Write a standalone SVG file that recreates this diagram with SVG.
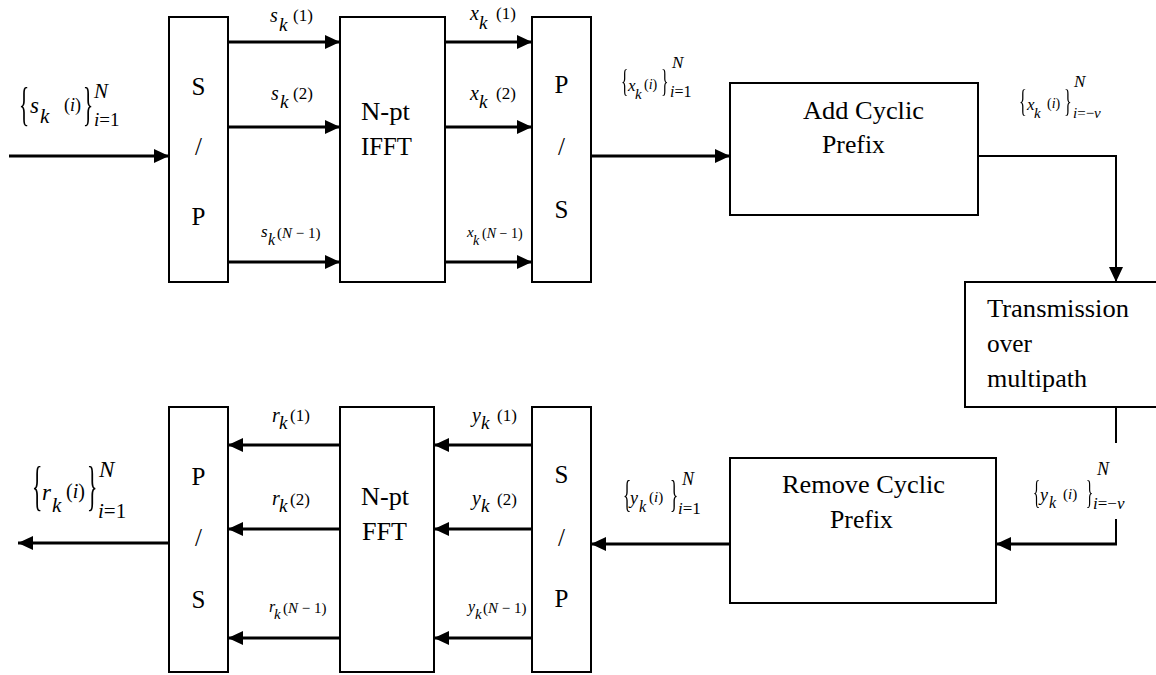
<svg xmlns="http://www.w3.org/2000/svg" width="1156" height="675" viewBox="0 0 1156 675" font-family="Liberation Serif, Tinos, Times New Roman, Nimbus Roman, FreeSerif, DejaVu Serif, serif">
<style>
.box{fill:#fff;stroke:#000;stroke-width:2}
text{fill:#000}
.lb{font-size:25px}
.m{font-style:italic}
.br{filter:grayscale(100%)}
.thick{fill:none;stroke:#000;stroke-width:3}
.thin{fill:none;stroke:#000;stroke-width:2}
</style>
<defs>
<marker id="ah" viewBox="0 0 15 14" markerWidth="15" markerHeight="14" refX="15" refY="7" orient="auto" markerUnits="userSpaceOnUse">
<path d="M0,0 L15,7 L0,14 z" fill="#000"/>
</marker>
</defs>
<rect width="1156" height="675" fill="#fff"/>

<g id="connectors">
<path class="thick" d="M9,156 H169" marker-end="url(#ah)"/>
<path class="thick" d="M228,42 H340" marker-end="url(#ah)"/>
<path class="thick" d="M228,127 H340" marker-end="url(#ah)"/>
<path class="thick" d="M228,262 H340" marker-end="url(#ah)"/>
<path class="thick" d="M445,42 H532" marker-end="url(#ah)"/>
<path class="thick" d="M445,127 H532" marker-end="url(#ah)"/>
<path class="thick" d="M445,262 H532" marker-end="url(#ah)"/>
<path class="thick" d="M591,156 H730" marker-end="url(#ah)"/>
<path class="thin" d="M978,156 H1116 V282" marker-end="url(#ah)"/>
<path class="thin" d="M1116,407 V443"/>
<path class="thin" d="M1116,519 V544"/>
<path class="thick" d="M1117,544 H996" marker-end="url(#ah)"/>
<path class="thick" d="M730,544 H591" marker-end="url(#ah)"/>
<path class="thick" d="M532,445 H434" marker-end="url(#ah)"/>
<path class="thick" d="M532,529 H434" marker-end="url(#ah)"/>
<path class="thick" d="M532,638 H434" marker-end="url(#ah)"/>
<path class="thick" d="M340,445 H228" marker-end="url(#ah)"/>
<path class="thick" d="M340,529 H228" marker-end="url(#ah)"/>
<path class="thick" d="M340,638 H228" marker-end="url(#ah)"/>
<path class="thick" d="M169,543 H18" marker-end="url(#ah)"/>
</g>

<g id="sp1">
<rect class="box" x="169" y="17" width="59" height="265"/>
<text class="lb" x="198.5" y="95" text-anchor="middle">S</text>
<text class="lb" x="198.5" y="155" text-anchor="middle">/</text>
<text class="lb" x="198.5" y="225" text-anchor="middle">P</text>
</g>
<g id="ifft">
<rect class="box" x="340" y="17" width="105" height="265"/>
<text class="lb" x="361" y="120" textLength="49" lengthAdjust="spacingAndGlyphs">N-pt</text>
<text class="lb" x="361" y="155" textLength="51" lengthAdjust="spacingAndGlyphs">IFFT</text>
</g>
<g id="ps1">
<rect class="box" x="532" y="17" width="59" height="265"/>
<text class="lb" x="561.5" y="93" text-anchor="middle">P</text>
<text class="lb" x="561.5" y="155" text-anchor="middle">/</text>
<text class="lb" x="561.5" y="218" text-anchor="middle">S</text>
</g>
<g id="addcp">
<rect class="box" x="730" y="83" width="248" height="132"/>
<text class="lb" x="803" y="119" textLength="121" lengthAdjust="spacingAndGlyphs">Add Cyclic</text>
<text class="lb" x="822" y="153" textLength="63" lengthAdjust="spacingAndGlyphs">Prefix</text>
</g>
<g id="trans">
<rect class="box" x="965" y="282" width="200" height="125"/>
<text class="lb" x="987" y="317" textLength="142" lengthAdjust="spacingAndGlyphs">Transmission</text>
<text class="lb" x="987" y="352" textLength="45" lengthAdjust="spacingAndGlyphs">over</text>
<text class="lb" x="987" y="387" textLength="100" lengthAdjust="spacingAndGlyphs">multipath</text>
</g>
<g id="remcp">
<rect class="box" x="730" y="458" width="266" height="145"/>
<text class="lb" x="782" y="493" textLength="163" lengthAdjust="spacingAndGlyphs">Remove Cyclic</text>
<text class="lb" x="830" y="528" textLength="63" lengthAdjust="spacingAndGlyphs">Prefix</text>
</g>
<g id="sp2">
<rect class="box" x="532" y="407" width="59" height="265"/>
<text class="lb" x="561.5" y="483" text-anchor="middle">S</text>
<text class="lb" x="561.5" y="546" text-anchor="middle">/</text>
<text class="lb" x="561.5" y="607" text-anchor="middle">P</text>
</g>
<g id="fft">
<rect class="box" x="340" y="407" width="94" height="265"/>
<text class="lb" x="361" y="505" textLength="48" lengthAdjust="spacingAndGlyphs">N-pt</text>
<text class="lb" x="362" y="540" textLength="45" lengthAdjust="spacingAndGlyphs">FFT</text>
</g>
<g id="ps2">
<rect class="box" x="169" y="407" width="59" height="265"/>
<text class="lb" x="198.5" y="485" text-anchor="middle">P</text>
<text class="lb" x="198.5" y="546" text-anchor="middle">/</text>
<text class="lb" x="198.5" y="608" text-anchor="middle">S</text>
</g>

<g id="labels">
<text class="m" x="270" y="22" font-size="20">s</text><text class="m" x="279" y="31" font-size="19">k</text><text x="293" y="21" font-size="17">(1)</text>
<text class="m" x="271" y="100" font-size="20">s</text><text class="m" x="280" y="108" font-size="19">k</text><text x="293" y="99" font-size="17">(2)</text>
<text class="m" x="261" y="237" font-size="17">s</text><text class="m" x="268" y="245" font-size="16">k</text><text x="277" y="238" font-size="15">(<tspan font-style="italic">N</tspan> − 1)</text>
<text class="m" x="470" y="20" font-size="20">x</text><text class="m" x="479" y="29" font-size="19">k</text><text x="496" y="19" font-size="17">(1)</text>
<text class="m" x="470" y="100" font-size="20">x</text><text class="m" x="479" y="108" font-size="19">k</text><text x="496" y="99" font-size="17">(2)</text>
<text class="m" x="467" y="237" font-size="15">x</text><text class="m" x="473" y="245" font-size="14">k</text><text x="482" y="238" font-size="14">(<tspan font-style="italic">N</tspan> − 1)</text>
<text class="m" x="272" y="422" font-size="20">r</text><text class="m" x="279" y="429" font-size="19">k</text><text x="290" y="421" font-size="17">(1)</text>
<text class="m" x="272" y="505" font-size="20">r</text><text class="m" x="279" y="512" font-size="19">k</text><text x="290" y="505" font-size="17">(2)</text>
<text class="m" x="269" y="612" font-size="16">r</text><text class="m" x="274" y="619" font-size="15">k</text><text x="283" y="613" font-size="15">(<tspan font-style="italic">N</tspan> − 1)</text>
<text class="m" x="472" y="422" font-size="20">y</text><text class="m" x="481" y="429" font-size="19">k</text><text x="497" y="421" font-size="17">(1)</text>
<text class="m" x="472" y="505" font-size="20">y</text><text class="m" x="481" y="512" font-size="19">k</text><text x="497" y="505" font-size="17">(2)</text>
<text class="m" x="468" y="612" font-size="16">y</text><text class="m" x="475" y="619" font-size="15">k</text><text x="483" y="613" font-size="15">(<tspan font-style="italic">N</tspan> − 1)</text>

<g class="br"><text transform="translate(19,120) scale(0.45,1)" font-size="47">{</text><text transform="translate(83,120) scale(0.45,1)" font-size="47">}</text></g>
<text class="m" x="30" y="113" font-size="23">s</text><text class="m" x="40" y="123" font-size="21">k</text>
<text x="64" y="111" font-size="18">(<tspan font-style="italic">i</tspan>)</text>
<text class="m" x="94" y="98" font-size="21">N</text>
<text x="94" y="126" font-size="19"><tspan font-style="italic">i</tspan>=1</text>

<g class="br"><text transform="translate(621,92) scale(0.5,1)" font-size="31">{</text><text transform="translate(661,92) scale(0.5,1)" font-size="31">}</text></g>
<text class="m" x="628" y="91" font-size="17">x</text><text class="m" x="635" y="99" font-size="15">k</text>
<text x="644" y="89" font-size="14">(<tspan font-style="italic">i</tspan>)</text>
<text class="m" x="672" y="68" font-size="17">N</text>
<text x="670" y="97" font-size="16"><tspan font-style="italic">i</tspan>=1</text>

<g class="br"><text transform="translate(1019,112) scale(0.5,1)" font-size="32">{</text><text transform="translate(1064,112) scale(0.5,1)" font-size="32">}</text></g>
<text class="m" x="1027" y="110" font-size="17">x</text><text class="m" x="1034" y="118" font-size="15">k</text>
<text x="1047" y="108" font-size="14">(<tspan font-style="italic">i</tspan>)</text>
<text class="m" x="1074" y="87" font-size="17">N</text>
<text x="1073" y="118" font-size="15"><tspan font-style="italic">i</tspan>=−<tspan font-style="italic">ν</tspan></text>

<g class="br"><text transform="translate(623,507) scale(0.45,1)" font-size="38">{</text><text transform="translate(670,507) scale(0.45,1)" font-size="38">}</text></g>
<text class="m" x="630" y="504" font-size="18">y</text><text class="m" x="639" y="512" font-size="16">k</text>
<text x="649" y="502" font-size="15">(<tspan font-style="italic">i</tspan>)</text>
<text class="m" x="682" y="485" font-size="18">N</text>
<text x="678" y="514" font-size="17"><tspan font-style="italic">i</tspan>=1</text>

<g class="br"><text transform="translate(1033,503) scale(0.45,1)" font-size="33">{</text><text transform="translate(1086,503) scale(0.45,1)" font-size="33">}</text></g>
<text class="m" x="1040" y="501" font-size="18">y</text><text class="m" x="1049" y="508" font-size="16">k</text>
<text x="1063" y="499" font-size="15">(<tspan font-style="italic">i</tspan>)</text>
<text class="m" x="1097" y="475" font-size="18">N</text>
<text x="1093" y="509" font-size="17"><tspan font-style="italic">i</tspan>=−<tspan font-style="italic">ν</tspan></text>

<g class="br"><text transform="translate(32,504) scale(0.4,1)" font-size="54">{</text><text transform="translate(87,504) scale(0.4,1)" font-size="54">}</text></g>
<text class="m" x="42" y="500" font-size="23">r</text><text class="m" x="52" y="512" font-size="21">k</text>
<text x="66" y="498" font-size="20">(<tspan font-style="italic">i</tspan>)</text>
<text class="m" x="99" y="477" font-size="23">N</text>
<text x="98" y="518" font-size="21"><tspan font-style="italic">i</tspan>=1</text>
</g>
</svg>
